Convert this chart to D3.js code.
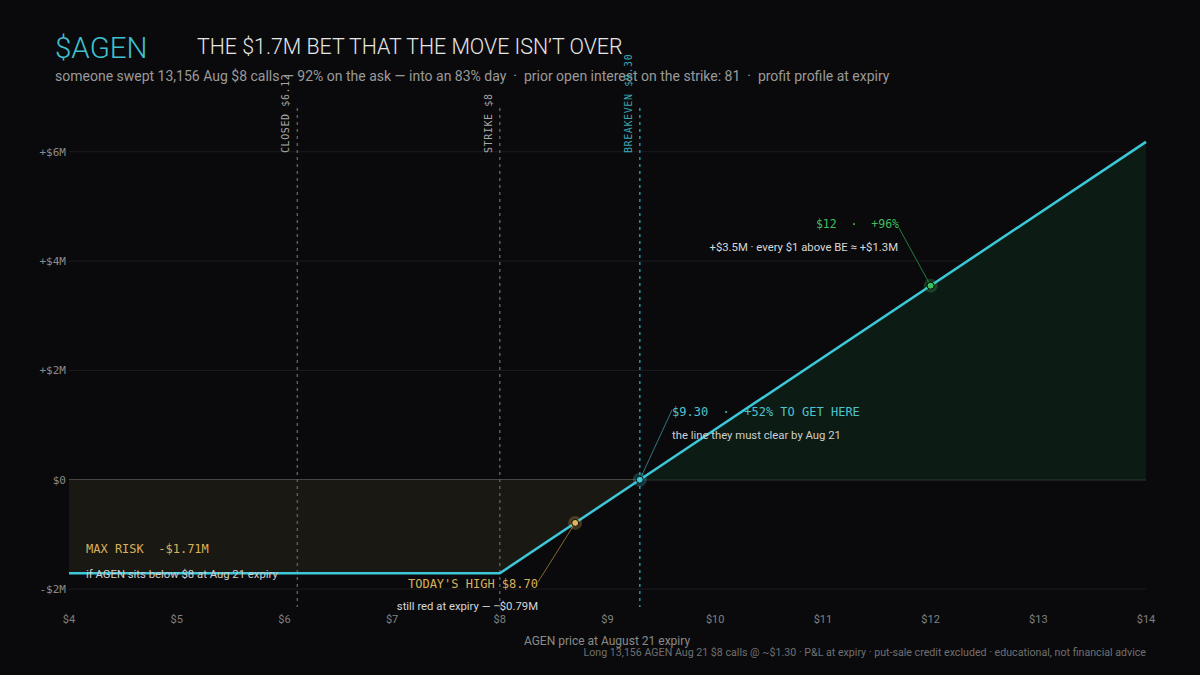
<!DOCTYPE html>
<html><head><meta charset="utf-8">
<script src="https://cdn.jsdelivr.net/npm/d3@7"></script>
<style>
html,body{margin:0;padding:0;background:#0a0a0c;}
svg{display:block;}
text{white-space:pre;}
</style></head>
<body>
<svg id="chart" width="1200" height="675"></svg>
<script>
// ---- data ----
const priceKnots = [4, 8, 9.3, 14];            // AGEN price at expiry ($)
const pnlKnots = [-1.71, -1.71, 0, 6.18];      // P&L ($M)
const xTicks = [4,5,6,7,8,9,10,11,12,13,14];
const xTickLabels = ["$4","$5","$6","$7","$8","$9","$10","$11","$12","$13","$14"];
const yTicks = [-2, 0, 2, 4, 6];
const yTickLabels = ["-$2M","$0","+$2M","+$4M","+$6M"];
const refLines = [
  {price: 6.12, label: "CLOSED $6.12", kind: "gray"},
  {price: 8, label: "STRIKE $8", kind: "gray"},
  {price: 9.3, label: "BREAKEVEN $9.30", kind: "cyan"}
];
const markPoints = [
  {price: 9.3, pnl: 0, kind: "be"},
  {price: 8.7, pnl: -0.79, kind: "high"},
  {price: 12, pnl: 3.55, kind: "twelve"}
];

const svg = d3.select("#chart");
const W = 1200, H = 675;
const M = {left: 69, right: 1146, top: 108, bottom: 600};
const x = d3.scaleLinear().domain([4, 14]).range([M.left, M.right]);
const y = d3.scaleLinear().domain([-2.2, 6.8]).range([M.bottom, M.top]);

const mono = "'DejaVu Sans Mono', 'Liberation Mono', monospace";
const sans = "Roboto, 'Noto Sans', sans-serif";

svg.append("rect").attr("width", W).attr("height", H).attr("fill", "#0a0a0c");

// header
svg.append("text").attr("x", 55).attr("y", 58).attr("fill", "#3fc1d0")
  .attr("font-family", sans).attr("font-weight", 300).attr("font-size", 29.5).text("$AGEN");
svg.append("text").attr("x", 197).attr("y", 54).attr("fill", "#e6e6e6")
  .attr("font-family", sans).attr("font-weight", 300).attr("font-size", 21.35)
  .text("THE $1.7M BET THAT THE MOVE ISN\u2019T OVER");
svg.append("text").attr("x", 55).attr("y", 81).attr("fill", "#9a9a9a")
  .attr("font-family", sans).attr("font-size", 14)
  .text("someone swept 13,156 Aug $8 calls \u2014 92% on the ask \u2014 into an 83% day  \u00b7  prior open interest on the strike: 81  \u00b7  profit profile at expiry");

// gridlines
svg.append("g").selectAll("line").data(yTicks).join("line")
  .attr("x1", M.left).attr("x2", M.right)
  .attr("y1", d => y(d)).attr("y2", d => y(d))
  .attr("stroke", d => d === 0 ? "#6a6a6a" : "#1c1c20").attr("stroke-width", 1);

// fills
const area = d3.area().x(d => x(d.p)).y0(y(0)).y1(d => y(d.v));
const knots = priceKnots.map((p, i) => ({p, v: pnlKnots[i]}));
svg.append("path").datum(knots.filter(d => d.v <= 0))
  .attr("d", area).attr("fill", "#1a1812");
svg.append("path").datum(knots.filter(d => d.v >= 0))
  .attr("d", area).attr("fill", "#0c1b14");

// reference lines
refLines.forEach(r => {
  const col = r.kind === "cyan" ? "#2f8f9c" : "#5a5a5e";
  svg.append("line").attr("x1", x(r.price)).attr("x2", x(r.price))
    .attr("y1", M.top).attr("y2", 607)
    .attr("stroke", col).attr("stroke-width", 1.5).attr("stroke-dasharray", "3,4");
  svg.append("text")
    .attr("transform", `translate(${x(r.price) - 8},153) rotate(-90)`)
    .attr("fill", r.kind === "cyan" ? "#3aa6b4" : "#a8a8a8")
    .attr("font-family", mono).attr("font-size", 10).attr("letter-spacing", 0.6)
    .text(r.label);
});

// y axis labels
svg.append("g").selectAll("text").data(yTicks).join("text")
  .attr("x", 66).attr("y", d => y(d) + 4).attr("text-anchor", "end")
  .attr("fill", "#8a8a8a").attr("font-family", mono).attr("font-size", 11)
  .text((d, i) => yTickLabels[i]);

// x axis labels
svg.append("g").selectAll("text").data(xTicks).join("text")
  .attr("x", d => x(d)).attr("y", 623).attr("text-anchor", "middle")
  .attr("fill", "#808080").attr("font-family", sans).attr("font-size", 11)
  .text((d, i) => xTickLabels[i]);

svg.append("text").attr("x", 607).attr("y", 645).attr("text-anchor", "middle")
  .attr("fill", "#8a8a8a").attr("font-family", sans).attr("font-size", 12)
  .text("AGEN price at August 21 expiry");
svg.append("text").attr("x", 1146).attr("y", 656).attr("text-anchor", "end")
  .attr("fill", "#707070").attr("font-family", sans).attr("font-size", 10.65)
  .text("Long 13,156 AGEN Aug 21 $8 calls @ ~$1.30 \u00b7 P&L at expiry \u00b7 put-sale credit excluded \u00b7 educational, not financial advice");

// P&L line
const line = d3.line().x(d => x(d.p)).y(d => y(d.v));
svg.append("path").datum(knots).attr("d", line)
  .attr("fill", "none").attr("stroke", "#3cc8d8").attr("stroke-width", 2.5);

// annotations: leaders
const mp = Object.fromEntries(markPoints.map(d => [d.kind, d]));
function leader(pt, tx, ty, col) {
  svg.append("line").attr("x1", tx).attr("y1", ty)
    .attr("x2", x(pt.price)).attr("y2", y(pt.pnl))
    .attr("stroke", col).attr("stroke-width", 0.8);
}
leader(mp.twelve, 899, 228, "#2e9a4c");
leader(mp.be, 672, 410, "#3f8f9a");
leader(mp.high, 538, 582, "#a08040");

// points
const ptStyle = {
  be: {fill: "#3cc8d8", halo: "rgba(60,200,216,0.25)"},
  high: {fill: "#e2b457", halo: "rgba(226,180,87,0.25)"},
  twelve: {fill: "#3fbf5f", halo: "rgba(63,191,95,0.25)"}
};
markPoints.forEach(d => {
  svg.append("circle").attr("cx", x(d.price)).attr("cy", y(d.pnl)).attr("r", 7)
    .attr("fill", ptStyle[d.kind].halo);
  svg.append("circle").attr("cx", x(d.price)).attr("cy", y(d.pnl)).attr("r", 3.5)
    .attr("fill", ptStyle[d.kind].fill).attr("stroke", "#0a0a0c").attr("stroke-width", 1);
});

// annotation texts
function txt(xx, yy, s, col, font, size, anchor) {
  svg.append("text").attr("x", xx).attr("y", yy).attr("fill", col)
    .attr("font-family", font).attr("font-size", size)
    .attr("text-anchor", anchor || "start").text(s);
}
txt(899, 228, "$12  \u00b7  +96%", "#3fbf5f", mono, 11.5, "end");
txt(898, 251, "+$3.5M \u00b7 every $1 above BE \u2248 +$1.3M", "#d8d8d8", sans, 11.3, "end");
txt(672, 416, "$9.30  \u00b7  +52% TO GET HERE", "#4ec3cf", mono, 12);
txt(672, 439, "the line they must clear by Aug 21", "#cfcfcf", sans, 11.3);
txt(86, 553, "MAX RISK  -$1.71M", "#d8b15c", mono, 12);
txt(86, 578, "if AGEN sits below $8 at Aug 21 expiry", "#cfcfcf", sans, 11.3);
txt(538, 588, "TODAY'S HIGH $8.70", "#d8b15c", mono, 12, "end");
txt(538, 610, "still red at expiry \u2014 \u2212$0.79M", "#d8d8d8", sans, 11.3, "end");
</script>
</body></html>
